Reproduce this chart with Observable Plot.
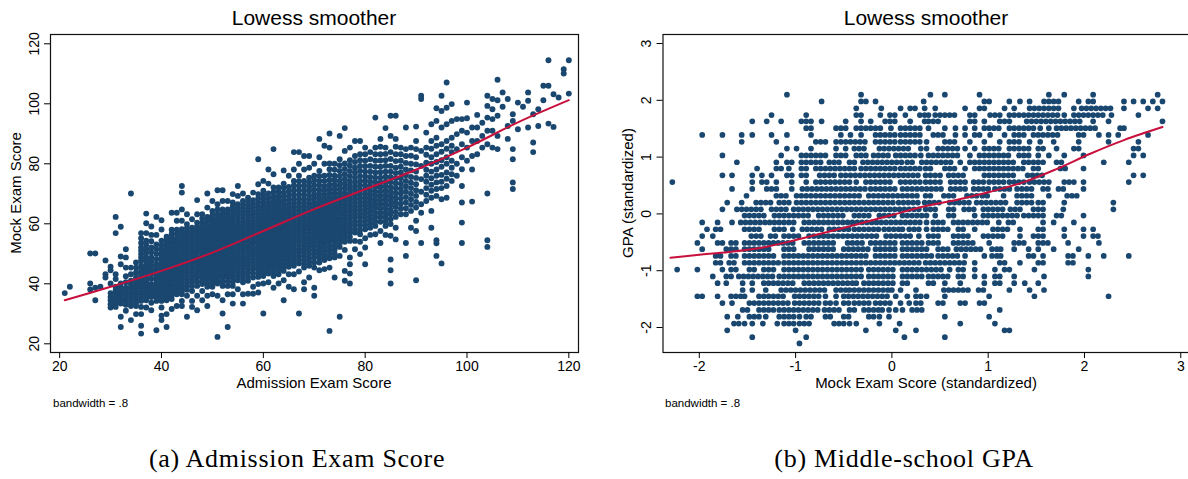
<!DOCTYPE html>
<html><head><meta charset="utf-8">
<script src="https://cdn.jsdelivr.net/npm/d3@7"></script>
<script src="https://cdn.jsdelivr.net/npm/@observablehq/plot@0.6"></script>
<style>
body{margin:0;background:#fff;}
#wrap{position:relative;width:1188px;height:479px;overflow:hidden;font-family:"Liberation Sans",Arial,sans-serif;color:#000;background:#fff;}
.abs{position:absolute;white-space:nowrap;line-height:1;}
.ctr{transform:translateX(-50%);}
.rot{transform:translate(-50%,-50%) rotate(-90deg);}
.title{font-size:21px;}
.axt{font-size:15px;}
.note{font-size:11.5px;}
.cap{font-family:"Liberation Serif","Times New Roman",serif;font-size:26px;letter-spacing:0.7px;}
#p1,#p2{position:absolute;top:0;height:420px;}
#p1{left:0;width:594px;} #p2{left:594px;width:600px;}
#p1 svg,#p2 svg{max-width:none;}
</style></head><body>
<div id="wrap">
  <div id="p1"></div>
  <div id="p2"></div>
  <div class="abs ctr title" style="left:314px;top:7px;">Lowess smoother</div>
  <div class="abs ctr title" style="left:926px;top:7px;">Lowess smoother</div>
  <div class="abs ctr axt" style="left:314px;top:375px;">Admission Exam Score</div>
  <div class="abs ctr axt" style="left:926px;top:375px;">Mock Exam Score (standardized)</div>
  <div class="abs rot axt" style="left:15px;top:193px;">Mock Exam Score</div>
  <div class="abs rot axt" style="left:627px;top:193px;">GPA (standardized)</div>
  <div class="abs note" style="left:53px;top:398px;">bandwidth = .8</div>
  <div class="abs note" style="left:665px;top:398px;">bandwidth = .8</div>
  <div class="abs ctr cap" style="left:297px;top:446px;">(a) Admission Exam Score</div>
  <div class="abs ctr cap" style="left:904px;top:446px;">(b) Middle-school GPA</div>
</div>
<script>
// ---------- Panel (a): Admission exam score vs mock exam score ----------
const admissionScore = [21,22,26,27,28,29,30,31,32,33,34,35,36,37,38,39,40,41,42,43,44,45,46,47,48,49,50,51,52,53,54,55,56,57,58,59,60,61,62,63,64,65,66,67,68,69,70,71,72,73,74,75,76,77,78,79,80,81,82,83,84,85,86,87,88,89,90,91,92,93,94,95,96,97,98,99,100,101,102,103,104,105,106,107,108,109,110,111,112,113,114,115,116,117,118,119,120];
const mockByAdmission = [
[36.9],[39.0],[50.1,40.1,38.1],[50.1,38.7,34.5],[39.0],[47.8,43.2,42.1],
[45.7,44.5,40.1,36.9,35.6,34.5,33.2,32.1],
[62.3,56.9,43.2,41.6,39.0,36.9,34.5,32.3],
[59.0,49.1,46.5,40.1,37.6,35.6,33.4,29.0,25.6],
[51.5,48.8,45.4,42.5,38.7,36.5,34.3,31.0],
[70.1,45.4,43.2,41.0,38.7,36.7,34.9,32.6,27.9],
[47.1,45.4,43.8,42.1,40.1,38.5,36.5,34.5,32.6,29.9],
[56.9,55.2,52.1,49.9,47.7,46.0,44.1,42.3,40.5,38.5,36.5,34.3,32.3,29.9,26.0,23.4],
[63.4,60.2,56.9,54.4,51.5,48.8,46.5,44.5,42.5,40.5,38.5,36.5,34.5,32.1],
[59.1,56.3,52.1,48.8,46.0,43.2,39.9,37.6,35.6,33.7,31.2],
[62.3,56.3,49.9,46.5,43.8,41.6,39.0,36.5,34.3,24.5],
[61.2,58.1,54.4,51.5,49.3,47.1,44.9,42.6,40.5,38.5,36.5,34.3,32.1,29.4,27.9],
[55.7,53.5,51.3,49.3,47.1,45.2,43.2,41.0,38.7,36.7,34.5,29.9,25.6],
[63.7,58.0,55.2,53.5,51.2,49.3,47.1,45.2,43.2,41.2,39.3,37.1,34.9,31.6],
[63.7,61.0,58.0,55.2,53.5,51.3,49.3,47.1,45.2,43.2,41.0,38.7,36.5,32.6],
[72.6,70.4,64.8,61.0,58.2,56.3,54.1,52.1,50.1,48.1,46.3,44.3,42.3,40.5,38.5,36.5,34.3,32.6],
[63.2,59.9,57.4,55.5,53.6,51.5,49.6,47.7,45.7,43.8,41.6,39.3,36.0,29.0],
[61.5,58.7,56.5,54.5,52.6,50.7,48.8,46.9,44.9,42.6,40.5,37.6,34.3,32.3],
[67.9,63.2,60.4,58.1,56.3,54.1,52.1,50.2,48.1,46.3,44.3,42.1,39.3,36.0,31.2],
[63.2,60.4,58.1,56.3,54.1,52.1,50.2,48.1,46.3,44.3,42.1,39.9,37.6,34.5],
[70.1,65.4,62.3,59.6,57.4,55.5,53.6,51.5,49.7,47.7,45.8,43.8,41.6,39.0,36.0,32.6],
[67.6,64.3,61.5,59.3,57.1,55.2,53.5,51.2,49.3,47.4,45.4,43.4,41.2,39.0,36.5],
[71.2,66.5,63.2,60.7,58.5,56.5,54.5,52.6,50.7,48.8,46.8,44.9,42.6,40.1,36.0,22.3],
[71.2,67.6,64.8,62.3,60.1,58.1,56.3,54.1,52.1,50.1,48.1,46.3,44.3,42.1,39.3,34.5,30.1],
[67.6,64.8,62.3,60.1,58.1,56.3,54.1,52.1,50.2,48.1,46.3,44.3,42.1,39.3,36.5,25.6],
[69.9,67.1,64.5,62.1,59.9,58.0,56.0,54.0,51.9,49.9,47.9,46.0,44.1,41.9,39.3,36.5,33.4],
[72.6,69.3,66.5,64.1,61.9,59.6,58.0,56.0,54.0,51.9,49.9,47.9,46.0,43.8,41.2,38.2],
[70.1,67.6,65.2,63.0,60.7,58.7,56.7,54.8,52.9,51.3,49.2,47.1,45.2,43.0,40.5,36.5,33.4],
[68.7,66.3,64.1,61.9,59.9,58.1,56.3,54.1,52.1,50.1,48.1,46.0,43.8,41.0,36.7],
[70.4,67.9,65.4,63.2,61.0,59.0,57.1,55.2,53.5,51.2,49.3,47.1,44.9,42.1,39.0,36.7],
[81.5,73.2,69.9,67.1,64.5,62.3,60.1,58.1,56.2,54.3,52.3,50.4,48.5,46.5,44.5,42.3,39.9,37.1],
[74.3,71.0,68.2,65.6,63.2,61.0,59.0,57.0,55.0,52.9,51.3,49.3,47.0,44.9,42.6,40.1,30.1],
[78.1,73.4,70.1,67.1,64.5,62.3,60.2,58.2,56.3,54.3,52.3,50.3,48.1,46.0,43.4,40.5],
[84.9,76.5,72.1,69.0,66.3,63.7,61.5,59.3,57.3,55.5,53.6,51.4,49.4,47.4,45.4,42.6,38.7],
[72.1,69.3,66.7,64.3,62.1,59.9,58.1,56.3,54.1,52.1,50.1,48.0,46.0,43.2,40.1],
[77.8,73.4,70.4,67.6,65.2,62.9,60.7,58.7,56.7,54.8,52.9,51.3,49.3,46.8,44.3,41.2,34.5],
[76.0,72.3,69.3,66.5,64.1,61.9,59.6,58.0,56.0,54.0,51.9,49.9,47.9,45.7,43.2,39.0],
[83.9,78.1,74.3,71.2,68.2,65.6,63.2,61.0,58.7,56.7,54.7,52.7,50.7,48.5,46.0,43.2,38.2],
[83.9,80.0,76.0,72.6,69.6,66.9,64.5,62.3,60.1,58.1,56.3,54.1,51.6,49.3,46.8,44.1,30.1],
[82.6,78.1,74.3,71.2,68.3,65.7,63.4,61.2,59.1,57.0,54.8,52.6,50.4,47.9,45.4,40.5,38.2],
[82.6,78.7,75.4,72.3,69.4,66.7,64.3,62.0,59.9,58.0,55.5,53.5,51.3,48.5,46.0,42.1],
[80.0,76.0,72.9,69.9,67.2,64.7,62.4,60.2,58.0,56.1,53.9,51.2,48.8,45.4,38.7,36.0],
[88.3,82.2,77.6,74.3,71.3,68.5,66.0,63.6,61.4,59.2,57.0,54.7,52.3,49.9,47.1,44.5],
[86.0,80.0,76.0,72.6,69.6,66.9,64.5,62.3,60.1,58.1,56.0,53.5,50.7,47.9,44.9],
[90.1,85.4,80.1,76.3,73.0,70.1,67.4,65.0,62.6,60.4,58.2,56.3,54.0,51.2,48.5,45.4,24.3],
[80.0,76.0,73.0,70.1,67.6,65.2,62.9,60.6,58.4,56.2,54.1,51.4,48.8,42.1],
[89.3,81.5,77.6,74.3,71.4,68.7,66.3,64.0,61.8,59.5,57.3,54.8,52.3,49.3,29.0],
[91.9,84.3,80.1,76.5,73.4,70.4,67.9,65.4,63.0,60.7,58.5,56.3,54.0,51.3,44.3,41.0],
[85.4,81.2,77.6,74.3,71.4,68.7,66.3,64.0,61.6,59.3,56.9,54.3,48.8,46.5,43.4,40.1],
[87.6,82.6,78.7,75.4,72.3,69.5,66.9,64.5,62.1,59.6,57.1,54.3,51.5],
[87.6,83.2,79.3,75.9,72.8,69.9,67.2,64.6,62.1,59.4,56.5,54.0,49.9],
[85.4,81.0,77.4,74.3,71.4,68.7,66.2,63.6,61.0,58.2,55.2,52.1,46.5],
[83.9,79.3,75.6,72.5,69.6,66.9,64.3,61.5,58.7,56.3],
[95.4,85.4,81.0,77.1,73.8,70.7,67.9,65.2,62.3,59.3,56.5],
[88.3,83.2,79.0,75.4,72.3,69.3,66.5,63.7,60.7,57.6,53.6],
[91.9,85.4,81.2,77.4,74.0,71.0,68.1,65.2,62.3,59.3,56.3],
[96.0,89.3,83.9,79.3,75.6,72.3,69.3,66.3,63.2,59.9,56.0,48.1,44.5,40.1],
[96.0,88.3,83.2,78.7,75.2,71.9,68.7,65.6,62.3,58.7,54.8],
[85.4,81.0,77.1,73.4,70.1,66.7,63.2],
[92.1,82.6,78.1,74.3,70.7,67.1,63.2,53.6,49.3],
[85.4,80.0,75.6,71.9,68.2,64.3,58.7],
[92.4,87.6,82.2,77.4,73.2,69.3,65.4,61.0,57.6,41.2],
[102.7,101.6,84.3,79.3,74.9,70.7,66.5,63.7,53.6],
[90.4,85.4,80.4,76.0,71.9,67.6],
[93.2,87.6,82.2,77.4,73.0,68.7,64.3,58.7],
[98.5,94.3,88.7,83.2,78.1,73.8,69.3,54.5,53.5,49.3],
[102.7,97.6,92.1,86.5,81.2,76.3,71.9,68.2,46.8],
[107.1,98.7,93.2,87.6,82.2,77.1,72.6,68.7],
[99.9,94.3,88.7,83.9,78.7,74.3],
[94.9,89.9,84.9,80.0,76.0],
[94.9,91.0,86.5,82.2,78.2,72.6,67.1,60.4,53.6],
[100.4,95.2,90.4,85.4,81.0],
[92.1,87.6,82.6,78.1,67.4],
[96.3,92.1,87.6,83.2],
[93.7,89.3,85.4],
[102.7,99.3,95.4,91.0,86.5,70.1,54.5,52.3],
[101.6,98.2,94.9,91.0,85.4],
[108.0,101.2,96.0,89.3,84.9],
[103.8,99.0],
[101.6,92.6,88.3],
[96.5,94.3,84.9,81.5,73.8,71.6],
[100.4,91.5],
[99.0],
[103.8,101.0,92.1],
[96.5,87.1,83.9],
[98.2,92.6],
[106.0,101.2],
[114.5,106.0,93.4],
[103.2,92.3],
[102.1],
[111.5,110.1],
[114.5,103.4]
];
// further observations inside the solid core of the cloud
const coreAdmission = [31,32,33,34,35,36,37,38,39,40,41,42,43,44,45,46,47,48,49,50,51,52,53,54,55,56,57,58,59,60,61,62,63,64,65,66,67,68,69,70,71,72,73,74,75,76,77,78,79,80,81,82,83,84,85,86,87,88,89,90,92,93,94,95,96,97];
const coreMockByAdmission = [
[37.9,35.6,33.4],[38.8,36.6,34.5],[40.5,37.6,35.3,33.0],[39.8,37.7,35.8,33.7],[41.1,39.3,37.5,35.5,33.6],
[53.6,51.0,48.8,45.0,43.2,41.4,39.5,37.5,35.4],
[53.0,50.2,47.6,45.5,43.5,41.5,39.5,37.5,35.5],
[54.2,50.5,47.4,44.6,41.6,38.7,36.6],
[53.1,51.5,48.2,45.1,42.7,40.3,37.7,35.4],
[52.9,50.4,48.2,46.0,43.7,41.5,39.5,37.5,35.4],
[54.6,52.4,50.3,48.2,46.1,44.2,42.1,39.8,37.7,35.6],
[56.6,54.3,52.3,50.2,48.2,46.1,44.2,42.2,40.2,38.2,36.0],
[56.6,54.3,52.4,50.3,48.2,46.1,44.2,42.1,39.8,37.6],
[57.2,55.2,53.1,51.1,49.1,47.2,45.3,43.3,41.4,39.5,37.5],
[58.6,56.4,54.5,52.5,50.5,48.6,46.7,44.7,42.7,40.4,38.0],
[57.6,55.5,53.5,51.6,49.7,47.8,45.9,43.7,41.5,39.2],
[59.2,57.2,55.2,53.1,51.1,49.1,47.2,45.3,43.2,40.7],
[61.8,59.2,57.2,55.2,53.1,51.1,49.1,47.2,45.3,43.2,41.0],
[61.0,58.5,56.4,54.5,52.5,50.6,48.7,46.7,44.8,42.7,40.3],
[62.9,60.4,58.2,56.1,54.3,52.3,50.2,48.3,46.4,44.4,42.3,40.1],
[64.8,61.9,59.6,57.5,55.5,53.5,51.6,49.7,47.8,45.8,43.7,41.3],
[63.5,61.2,59.1,57.2,55.2,53.1,51.1,49.1,47.2,45.3,43.2,40.7],
[63.5,61.2,59.1,57.2,55.2,53.1,51.1,49.1,47.2,45.3,43.2,40.8],
[65.8,63.3,61.0,59.0,57.0,55.0,52.9,50.9,48.9,47.0,45.0,43.0,40.6],
[65.3,63.0,60.8,58.8,57.0,55.0,53.0,50.9,48.9,47.0,44.9,42.5],
[66.4,64.1,61.9,59.7,57.7,55.8,53.9,52.1,50.2,48.2,46.2,44.1,41.8],
[67.5,65.2,63.0,60.9,59.0,57.2,55.2,53.1,51.1,49.1,47.0,44.9,42.4],
[66.6,64.3,62.1,60.0,58.1,56.2,54.3,52.3,50.2,48.2,46.0,43.5],
[68.5,65.8,63.4,61.2,59.1,57.2,55.2,53.3,51.4,49.4,47.5,45.5,43.4],
[69.6,66.9,64.4,62.1,60.0,58.0,56.0,54.0,52.1,50.3,48.1,46.0,43.8],
[68.6,65.8,63.4,61.2,59.2,57.3,55.3,53.3,51.3,49.2,47.1,44.8],
[70.5,67.6,65.0,62.6,60.4,58.3,56.4,54.5,52.5,50.4,48.4,46.4,44.0],
[70.7,68.0,65.5,63.2,61.0,59.0,57.2,55.2,53.1,51.1,49.0,47.0,44.6],
[72.0,69.0,66.4,64.0,61.8,59.7,57.7,55.8,53.9,52.1,50.3,48.0,45.5],
[70.8,67.9,65.3,63.0,60.8,58.8,57.0,55.0,53.0,50.9,48.9,46.8],
[72.8,69.7,66.9,64.4,62.1,59.9,57.7,55.7,53.7,51.7,49.6,47.3],
[74.2,71.1,68.2,65.7,63.4,61.2,59.1,57.2,55.2,52.9,50.5,48.0],
[72.8,69.8,67.0,64.5,62.3,60.2,58.1,55.9,53.7,51.5,49.2,46.6],
[73.8,70.9,68.1,65.5,63.2,61.0,59.0,56.8,54.5,52.4,49.9,47.3],
[74.5,71.4,68.6,66.0,63.6,61.3,59.1,57.1,55.0,52.6,50.0,47.1],
[75.9,72.8,69.9,67.3,64.8,62.5,60.3,58.1,55.9,53.5,51.1,48.5],
[74.3,71.1,68.2,65.7,63.4,61.2,59.1,57.0,54.8,52.1,49.3],
[78.2,74.6,71.5,68.7,66.2,63.8,61.5,59.3,57.2,55.1,52.6,49.8],
[78.0,74.5,71.5,68.8,66.4,64.0,61.7,59.5,57.3,55.1,52.7,50.1],
[79.5,75.9,72.8,70.0,67.5,65.1,62.9,60.6,58.4,56.0,53.5],
[78.3,74.9,71.9,69.1,66.6,64.2,61.8,59.6,57.4,55.1],
[79.4,75.9,72.8,70.0,67.5,65.1,62.8,60.4,58.1,55.6],
[80.6,77.0,73.8,70.9,68.2,65.7,63.3,60.8,58.3],
[81.2,77.6,74.3,71.3,68.5,65.9,63.3,60.7,57.9],
[83.2,79.2,75.8,72.8,70.0,67.4,64.9,62.3,59.6],
[81.5,77.4,74.0,71.0,68.2,65.6,62.9,60.1],
[83.2,79.0,75.4,72.2,69.3,66.5,63.7,60.8],
[85.7,81.1,77.2,73.8,70.8,67.9,65.1,62.2],
[83.3,79.3,75.7,72.5,69.5,66.6,63.7,60.8],
[81.6,77.4,73.9,70.8,67.8,64.7,61.5],
[85.7,80.9,76.9,73.5,70.3,67.1,63.9],
[83.2,79.0,75.2,71.7,68.4,65.0],
[84.9,80.3,76.2,72.5,68.9,65.2],
[82.7,77.8,73.7,70.0,66.3],
[84.9,79.8,75.3,71.2,67.3],
[83.0,78.0,74.0,69.7],
[85.0,80.0,75.2,71.0],
[86.0,80.6,76.0,71.6],
[84.0,79.0,74.0],
[85.0,80.0,75.0],
[86.0,81.0,76.5]
];
const lowessAdmission = [21,30,40,50,60,70,80,90,100,110,120];
const lowessMockA = [34.5,39.0,44.3,50.4,57.6,64.9,71.5,78.0,85.4,93.8,101.2];

// ---------- Panel (b): Mock exam score (std) vs GPA (std) ----------
const gpaLevels = [2.10,1.98,1.86,1.74,1.63,1.51,1.39,1.27,1.15,1.03,0.91,0.80,0.68,0.56,0.44,0.32,0.20,0.08,-0.03,-0.15,-0.27,-0.39,-0.51,-0.62,-0.74,-0.86,-0.98,-1.10,-1.22,-1.34,-1.45,-1.57,-1.69,-1.81,-1.93,-2.05,-2.17,-2.28];
const mockStdByGpa = [
[-1.09,-0.32,0.40,0.55,0.91,1.63,1.79,2.09,2.76],
[-0.73,-0.32,-0.27,-0.17,0.33,0.96,1.01,1.22,1.33,1.43,1.58,1.63,1.68,1.73,1.94,2.04,2.09,2.41,2.51,2.61,2.71,2.81],
[-0.37,-0.11,0.09,0.19,0.24,0.34,0.45,0.76,0.91,0.96,1.17,1.27,1.43,1.48,1.53,1.58,1.63,1.68,1.73,1.89,1.97,2.02,2.07,2.12,2.17,2.22,2.27,2.41,2.66,2.76],
[-1.25,-0.89,-0.37,-0.32,-0.12,-0.02,0.03,0.14,0.29,0.34,0.38,0.45,0.50,0.55,0.60,0.65,0.81,0.86,1.02,1.07,1.12,1.22,1.27,1.32,1.37,1.42,1.47,1.52,1.57,1.62,1.67,1.72,1.79,1.89,1.94,1.99,2.04,2.09,2.14,2.19,2.28,2.56],
[-1.45,-1.30,-1.15,-0.94,-0.89,-0.84,-0.73,-0.48,-0.32,-0.22,-0.07,-0.02,0.03,0.19,0.34,0.38,0.43,0.48,0.81,0.86,0.96,1.12,1.17,1.22,1.40,1.45,1.50,1.55,1.60,1.65,1.70,1.75,1.80,1.85,1.90,1.95,2.09,2.25,2.81],
[-0.89,-0.84,-0.58,-0.53,-0.48,-0.37,-0.32,-0.27,-0.22,-0.17,-0.12,-0.01,0.09,0.14,0.19,0.24,0.29,0.38,0.55,0.66,0.76,0.86,0.96,1.01,1.06,1.11,1.22,1.27,1.32,1.37,1.42,1.47,1.54,1.63,1.71,1.76,1.81,1.86,1.91,1.96,2.01,2.06,2.11,2.37,2.41],
[-1.97,-1.76,-1.56,-1.45,-1.25,-1.09,-0.84,-0.53,-0.43,-0.32,-0.17,-0.12,-0.07,-0.02,0.03,0.09,0.14,0.19,0.24,0.29,0.43,0.48,0.53,0.66,0.76,0.86,0.91,1.02,1.17,1.27,1.32,1.37,1.47,1.52,1.57,1.62,1.67,1.72,1.94,1.99,2.15,2.25,2.35,2.66],
[-1.56,-1.20,-0.79,-0.74,-0.69,-0.58,-0.53,-0.48,-0.43,-0.38,-0.33,-0.28,-0.17,-0.12,-0.07,-0.02,0.03,0.09,0.14,0.19,0.24,0.29,0.36,0.55,0.60,0.65,0.81,0.96,1.12,1.22,1.27,1.32,1.43,1.54,1.68,1.94,2.25,2.56],
[-1.09,-0.99,-0.84,-0.58,-0.48,-0.39,-0.34,-0.29,-0.13,-0.08,-0.03,0.02,0.07,0.12,0.17,0.30,0.36,0.48,0.53,0.58,0.63,0.68,0.76,0.86,0.96,1.01,1.06,1.11,1.22,1.27,1.32,1.37,1.42,1.52,1.57,1.71,1.89,1.94,2.51,2.56],
[-1.76,-1.15,-0.94,-0.89,-0.84,-0.79,-0.74,-0.69,-0.58,-0.53,-0.48,-0.37,-0.32,-0.27,-0.19,-0.14,-0.09,-0.04,0.04,0.09,0.14,0.19,0.24,0.30,0.38,0.43,0.48,0.53,0.58,0.63,0.68,0.81,0.91,0.96,1.01,1.06,1.11,1.16,1.21,1.32,1.37,1.42,1.52,1.63,1.79,1.99,2.51,2.61],
[-1.61,-1.20,-1.09,-1.04,-0.94,-0.89,-0.84,-0.79,-0.74,-0.65,-0.60,-0.55,-0.44,-0.39,-0.30,-0.25,-0.20,-0.15,-0.10,-0.05,0.00,0.05,0.10,0.16,0.21,0.31,0.36,0.41,0.46,0.51,0.56,0.61,0.71,0.81,0.86,0.91,0.96,1.01,1.06,1.11,1.16,1.21,1.26,1.37,1.42,1.47,1.52,1.57,1.71,1.76,2.20,2.46],
[-1.40,-1.20,-1.15,-1.07,-0.94,-0.89,-0.79,-0.74,-0.69,-0.64,-0.59,-0.54,-0.49,-0.44,-0.39,-0.32,-0.27,-0.22,-0.17,-0.12,-0.07,-0.02,0.03,0.09,0.14,0.19,0.24,0.29,0.35,0.40,0.55,0.60,0.65,0.76,0.86,0.91,0.96,1.01,1.06,1.11,1.16,1.21,1.26,1.31,1.36,1.47,1.52,1.75,1.80,1.99],
[-1.76,-1.66,-1.45,-1.35,-1.25,-1.09,-1.04,-0.94,-0.89,-0.75,-0.70,-0.65,-0.60,-0.53,-0.48,-0.43,-0.38,-0.33,-0.28,-0.23,-0.18,-0.13,-0.08,-0.03,0.02,0.07,0.12,0.17,0.22,0.27,0.35,0.40,0.45,0.50,0.59,0.64,0.69,0.74,0.96,1.01,1.06,1.11,1.16,1.21,1.26,1.41,1.46,1.51,1.56,2.51,2.61],
[-2.28,-1.45,-1.35,-1.30,-1.20,-1.04,-0.89,-0.79,-0.74,-0.69,-0.64,-0.59,-0.54,-0.49,-0.44,-0.37,-0.27,-0.22,-0.17,-0.12,-0.07,-0.02,0.09,0.14,0.19,0.24,0.29,0.35,0.40,0.45,0.50,0.61,0.66,0.71,0.76,0.85,0.90,0.95,1.01,1.06,1.11,1.16,1.22,1.27,1.32,1.37,1.43,1.48,1.53,1.58,1.63,1.79,1.84,1.89,1.99,2.46],
[-1.66,-1.45,-1.30,-1.25,-1.20,-1.04,-0.93,-0.88,-0.83,-0.78,-0.73,-0.68,-0.63,-0.58,-0.53,-0.48,-0.43,-0.38,-0.33,-0.28,-0.22,-0.17,-0.12,-0.07,-0.02,0.03,0.11,0.16,0.21,0.26,0.31,0.36,0.41,0.46,0.51,0.61,0.66,0.71,0.76,0.85,0.90,0.95,1.00,1.07,1.12,1.17,1.22,1.30,1.35,1.40,1.45,1.57,1.62,1.73,1.78,1.99],
[-1.51,-1.20,-1.15,-1.10,-0.99,-0.94,-0.89,-0.84,-0.79,-0.74,-0.69,-0.64,-0.59,-0.54,-0.49,-0.44,-0.39,-0.34,-0.24,-0.19,-0.14,-0.09,-0.04,0.01,0.06,0.11,0.16,0.21,0.26,0.35,0.40,0.54,0.59,0.64,0.78,0.83,0.88,0.94,0.99,1.16,1.30,1.35,1.40,1.45,1.63,1.82,1.87,1.92],
[-1.71,-1.56,-1.41,-1.36,-1.31,-1.26,-1.17,-1.12,-1.07,-0.99,-0.94,-0.89,-0.84,-0.79,-0.74,-0.69,-0.64,-0.59,-0.54,-0.49,-0.44,-0.39,-0.34,-0.29,-0.24,-0.19,-0.14,-0.09,-0.04,0.01,0.07,0.12,0.17,0.22,0.27,0.34,0.39,0.44,0.49,0.60,0.65,0.70,0.75,0.80,0.88,0.93,0.98,1.03,1.08,1.13,1.18,1.30,1.35,1.40,1.45,1.52,1.57,1.79,2.30],
[-1.76,-1.61,-1.56,-1.51,-1.46,-1.41,-1.36,-1.25,-1.20,-1.15,-1.10,-1.02,-0.97,-0.92,-0.87,-0.82,-0.77,-0.72,-0.67,-0.62,-0.57,-0.52,-0.47,-0.42,-0.37,-0.32,-0.27,-0.22,-0.17,-0.12,-0.07,-0.02,0.03,0.08,0.13,0.18,0.23,0.28,0.35,0.40,0.45,0.59,0.64,0.75,0.80,0.85,0.95,1.00,1.05,1.10,1.15,1.23,1.28,1.33,1.47,1.52,1.57,1.78,2.30],
[-1.53,-1.48,-1.43,-1.38,-1.33,-1.22,-1.17,-1.12,-1.07,-1.02,-0.97,-0.92,-0.87,-0.76,-0.71,-0.66,-0.61,-0.56,-0.51,-0.39,-0.34,-0.29,-0.24,-0.13,-0.08,-0.03,0.02,0.11,0.16,0.21,0.26,0.31,0.36,0.45,0.59,0.64,0.86,0.95,1.00,1.05,1.10,1.15,1.20,1.25,1.30,1.37,1.42,1.47,1.52,1.57,1.71,1.76,1.99],
[-1.97,-1.81,-1.66,-1.57,-1.52,-1.47,-1.42,-1.37,-1.32,-1.27,-1.22,-1.17,-1.12,-1.07,-1.02,-0.91,-0.86,-0.81,-0.76,-0.71,-0.66,-0.61,-0.56,-0.51,-0.46,-0.41,-0.36,-0.31,-0.26,-0.21,-0.16,-0.11,-0.06,-0.01,0.04,0.09,0.14,0.19,0.24,0.29,0.36,0.43,0.48,0.53,0.64,0.69,0.74,0.79,0.84,0.89,0.94,0.99,1.11,1.21,1.26,1.57,1.68,1.89],
[-1.92,-1.83,-1.78,-1.53,-1.48,-1.43,-1.38,-1.22,-1.17,-1.12,-1.03,-0.93,-0.88,-0.83,-0.78,-0.73,-0.65,-0.60,-0.55,-0.50,-0.45,-0.39,-0.34,-0.29,-0.24,-0.19,-0.14,-0.08,-0.03,0.02,0.07,0.11,0.18,0.23,0.28,0.36,0.43,0.48,0.53,0.58,0.69,0.74,0.86,1.05,1.10,1.15,1.20,1.33,1.52,1.57,1.79,1.99,2.09],
[-1.97,-1.86,-1.46,-1.41,-1.36,-1.26,-1.21,-1.12,-1.07,-1.02,-0.97,-0.86,-0.81,-0.76,-0.71,-0.66,-0.61,-0.56,-0.51,-0.46,-0.41,-0.36,-0.31,-0.26,-0.21,-0.16,-0.06,-0.01,0.04,0.09,0.14,0.19,0.28,0.38,0.43,0.48,0.64,0.69,0.74,0.79,0.95,1.00,1.05,1.10,1.15,1.33,1.47,1.52,1.57,1.79,1.99,2.09,2.14],
[-2.02,-1.81,-1.76,-1.67,-1.62,-1.53,-1.48,-1.43,-1.38,-1.33,-1.28,-1.23,-1.18,-1.13,-1.08,-1.03,-0.91,-0.86,-0.81,-0.76,-0.71,-0.66,-0.61,-0.46,-0.41,-0.36,-0.31,-0.22,-0.17,-0.12,-0.07,-0.02,0.03,0.11,0.16,0.21,0.26,0.31,0.38,0.43,0.48,0.64,0.69,0.74,0.79,0.84,1.01,1.27,1.32,1.37,1.52,1.57,1.62,1.83,2.15],
[-1.97,-1.72,-1.67,-1.62,-1.53,-1.48,-1.43,-1.38,-1.33,-1.28,-1.12,-1.07,-1.02,-0.86,-0.81,-0.76,-0.71,-0.66,-0.61,-0.50,-0.45,-0.40,-0.35,-0.30,-0.25,-0.17,-0.12,-0.07,-0.02,0.03,0.11,0.16,0.21,0.26,0.31,0.36,0.48,0.53,0.58,0.67,0.72,0.77,0.82,0.87,0.92,1.04,1.09,1.13,1.27,1.42,1.52,1.68,1.94],
[-1.83,-1.78,-1.67,-1.62,-1.53,-1.48,-1.43,-1.38,-1.33,-1.28,-1.23,-1.12,-1.07,-1.02,-0.97,-0.92,-0.87,-0.82,-0.77,-0.72,-0.67,-0.62,-0.57,-0.52,-0.47,-0.42,-0.37,-0.32,-0.27,-0.17,-0.12,-0.07,-0.02,0.03,0.11,0.16,0.21,0.26,0.31,0.36,0.41,0.48,0.53,0.58,0.63,0.68,0.76,0.96,1.04,1.09,1.13,1.42,1.47,1.57,1.83,1.88,2.04,2.20,2.46],
[-1.83,-1.78,-1.69,-1.64,-1.53,-1.48,-1.43,-1.38,-1.33,-1.28,-1.23,-1.18,-1.12,-1.07,-1.02,-0.97,-0.92,-0.87,-0.82,-0.77,-0.72,-0.67,-0.62,-0.57,-0.52,-0.47,-0.42,-0.37,-0.32,-0.27,-0.22,-0.17,-0.12,-0.07,-0.02,0.03,0.08,0.13,0.18,0.23,0.28,0.35,0.40,0.45,0.50,0.55,0.60,0.65,0.70,0.75,0.86,1.12,1.17,1.33,1.52,1.57,1.83,1.88],
[-2.23,-2.02,-1.76,-1.67,-1.62,-1.48,-1.43,-1.33,-1.28,-1.23,-1.12,-1.07,-1.02,-0.97,-0.92,-0.87,-0.82,-0.77,-0.72,-0.67,-0.62,-0.57,-0.52,-0.47,-0.42,-0.37,-0.32,-0.24,-0.19,-0.14,-0.09,-0.04,0.01,0.11,0.16,0.21,0.26,0.31,0.36,0.41,0.46,0.51,0.60,0.69,0.74,0.86,1.07,1.17,1.22,1.48,2.04],
[-1.86,-1.72,-1.67,-1.59,-1.54,-1.49,-1.44,-1.39,-1.34,-1.29,-1.24,-1.17,-1.12,-1.07,-1.02,-0.97,-0.92,-0.87,-0.82,-0.77,-0.72,-0.67,-0.62,-0.57,-0.52,-0.47,-0.42,-0.37,-0.32,-0.24,-0.19,-0.14,-0.09,-0.04,0.01,0.11,0.16,0.21,0.26,0.31,0.38,0.43,0.48,0.53,0.58,0.69,0.74,0.86,0.96,1.07,1.12,1.27,1.58,2.04],
[-1.81,-1.72,-1.55,-1.45,-1.33,-1.28,-1.23,-1.18,-1.13,-1.08,-1.03,-0.91,-0.86,-0.81,-0.76,-0.71,-0.66,-0.61,-0.56,-0.51,-0.46,-0.41,-0.37,-0.29,-0.24,-0.19,-0.14,-0.09,-0.04,0.01,0.11,0.16,0.38,0.43,0.55,0.71,0.96,1.07,1.12,1.27,1.38,1.52],
[-1.55,-1.45,-1.31,-1.15,-1.10,-1.05,-1.00,-0.95,-0.90,-0.85,-0.80,-0.75,-0.70,-0.58,-0.53,-0.48,-0.44,-0.39,-0.34,-0.29,-0.24,-0.19,-0.14,-0.09,-0.04,0.00,0.09,0.25,0.54,0.59,0.64,0.69,0.74,0.79,0.90,0.95,1.22,1.43,1.58],
[-2.02,-1.97,-1.81,-1.67,-1.62,-1.57,-1.53,-1.38,-1.33,-1.28,-1.23,-1.18,-1.13,-1.01,-0.96,-0.91,-0.86,-0.81,-0.76,-0.69,-0.58,-0.50,-0.45,-0.40,-0.35,-0.30,-0.25,-0.20,-0.15,-0.10,-0.05,0.04,0.16,0.25,0.30,0.36,0.55,1.01,1.48,2.25],
[-1.76,-1.66,-1.48,-1.43,-1.38,-1.33,-1.28,-1.23,-1.18,-1.13,-1.08,-1.01,-0.96,-0.91,-0.86,-0.81,-0.76,-0.69,-0.64,-0.58,-0.50,-0.45,-0.39,-0.34,-0.29,-0.24,-0.17,-0.12,-0.07,-0.02,0.09,0.18,0.25,0.30,0.48,0.53,0.71,0.76,0.91,0.96],
[-1.55,-1.50,-1.38,-1.33,-1.28,-1.23,-1.17,-1.12,-1.07,-1.02,-0.97,-0.92,-0.87,-0.82,-0.77,-0.70,-0.65,-0.60,-0.55,-0.44,-0.39,-0.29,-0.24,-0.19,-0.14,-0.10,-0.03,0.04,0.11,0.21,0.26,0.31,1.12],
[-1.71,-1.60,-1.48,-1.43,-1.38,-1.31,-1.17,-1.12,-1.07,-1.02,-0.96,-0.89,-0.84,-0.69,-0.64,-0.50,-0.45,-0.24,-0.19,-0.13,-0.03,0.55,1.01],
[-1.64,-1.59,-1.53,-1.45,-1.34,-1.19,-1.12,-1.07,-1.02,-0.96,-0.91,-0.86,-0.60,-0.55,-0.50,-0.44,-0.37,-0.13,0.08,0.71,1.07],
[-1.71,-1.00,-0.27,0.04,0.25,1.17,1.22],
[-1.45,-0.89,0.13,0.55],
[-0.96]
];
const lowessMockStd = [-2.30,-2.00,-1.69,-1.34,-1.00,-0.65,-0.31,0.00,0.33,0.70,1.02,1.37,1.71,2.06,2.41,2.81];
const lowessGpa = [-0.77,-0.72,-0.67,-0.59,-0.46,-0.31,-0.16,-0.02,0.13,0.26,0.39,0.56,0.79,1.06,1.30,1.53];

const ticksA = [20,40,60,80,100,120];
const ticksB = [-2,-1,0,1,2,3];

// ---------- build tables ----------
const ptsA = admissionScore.flatMap((x, i) => mockByAdmission[i].map(y => ({x, y})))
  .concat(coreAdmission.flatMap((x, i) => coreMockByAdmission[i].map(y => ({x, y}))));
const lineA = lowessAdmission.map((x, i) => ({x, y: lowessMockA[i]}));
const ptsB = gpaLevels.flatMap((y, i) => mockStdByGpa[i].map(x => ({x, y})));
const lineB = lowessMockStd.map((x, i) => ({x, y: lowessGpa[i]}));

const NAVY = "#1a476f", RED = "#c8103c";
const common = {
  style: {fontFamily: "'Liberation Sans', Arial, sans-serif", fontSize: "14px", color: "#000", background: "#fff"}
};

function panel(pts, line, xdom, ydom, xt, yt, dims) {
  return Plot.plot({
    ...common,
    width: dims.width, height: 420,
    marginLeft: dims.ml, marginRight: dims.mr, marginTop: 34, marginBottom: 68,
    x: {domain: xdom}, y: {domain: ydom},
    marks: [
      Plot.dot(pts, {x: "x", y: "y", r: dims.r, fill: NAVY, stroke: "none"}),
      Plot.line(line, {x: "x", y: "y", stroke: RED, strokeWidth: 2, curve: "catmull-rom"}),
      Plot.frame({stroke: "#111", strokeWidth: 1.2}),
      Plot.axisX({ticks: xt, tickSize: 6, tickPadding: 3, tickFormat: d => String(d), label: null}),
      Plot.axisY({ticks: yt, tickSize: 6, tickPadding: 6, tickRotate: -90, tickFormat: d => String(d), label: null})
    ]
  });
}

document.getElementById("p1").append(
  panel(ptsA, lineA, [18.2, 121.9], [17.1, 123.1], ticksA, ticksA, {width: 594, ml: 50, mr: 16, r: 2.95})
);
document.getElementById("p2").append(
  panel(ptsB, lineB, [-2.377, 3.101], [-2.44, 3.159], ticksB, ticksB, {width: 600, ml: 68.5, mr: 4, r: 2.85})
);
</script>
</body></html>
